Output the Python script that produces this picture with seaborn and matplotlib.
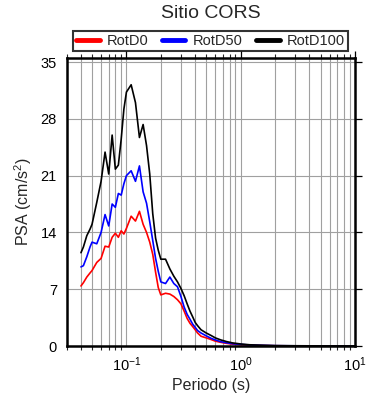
import numpy as np
import pandas as pd
import matplotlib
matplotlib.use("Agg")
import matplotlib.pyplot as plt
import seaborn as sns
from matplotlib.ticker import LogLocator, NullFormatter
from matplotlib.lines import Line2D

periods = [0.040, 0.042, 0.045, 0.048, 0.050, 0.055, 0.060, 0.065, 0.070, 0.075,
           0.080, 0.085, 0.090, 0.095, 0.100, 0.110, 0.120, 0.130, 0.140, 0.150,
           0.160, 0.170, 0.180, 0.190, 0.200, 0.220, 0.240, 0.260, 0.280, 0.300,
           0.320, 0.340, 0.360, 0.380, 0.400, 0.420, 0.450, 0.500, 0.550, 0.600,
           0.670, 0.750, 0.850, 1.0, 1.2, 1.5, 2.0, 3.0, 4.0, 5.0, 7.5, 10.0]

rotd0 = [7.4, 7.8, 8.5, 9.0, 9.3, 10.3, 10.8, 12.3, 12.2, 13.4,
         13.9, 13.4, 14.2, 13.8, 14.5, 16.0, 15.4, 16.6, 15.0, 14.0,
         12.8, 11.3, 9.1, 7.2, 6.3, 6.5, 6.4, 6.1, 5.7, 5.2,
         4.3, 3.4, 2.8, 2.4, 2.0, 1.6, 1.2, 1.0, 0.8, 0.6,
         0.45, 0.33, 0.23, 0.15, 0.10, 0.06, 0.03, 0.015, 0.01, 0.008, 0.005, 0.004]

rotd50 = [9.75, 9.9, 11.0, 12.2, 12.8, 12.6, 14.0, 16.2, 14.8, 17.5,
          17.1, 18.8, 18.6, 20.0, 21.0, 21.6, 20.3, 22.2, 19.0, 17.6,
          15.3, 13.0, 10.8, 9.2, 7.9, 7.7, 8.5, 7.7, 7.3, 6.1,
          4.8, 3.9, 3.3, 2.7, 2.3, 1.9, 1.6, 1.25, 0.95, 0.75,
          0.53, 0.40, 0.28, 0.20, 0.12, 0.08, 0.04, 0.02, 0.015, 0.01, 0.008, 0.005]

rotd100 = [11.5, 12.2, 13.6, 14.4, 15.0, 17.7, 20.3, 23.9, 21.2, 26.0,
           21.8, 22.3, 25.5, 29.2, 31.3, 32.2, 30.0, 25.7, 27.3, 24.7,
           21.2, 16.3, 13.3, 11.8, 10.7, 10.7, 9.5, 8.6, 7.9, 7.1,
           6.2, 5.2, 4.3, 3.6, 2.9, 2.5, 2.0, 1.6, 1.3, 1.0,
           0.75, 0.55, 0.38, 0.25, 0.15, 0.10, 0.05, 0.03, 0.02, 0.015, 0.01, 0.01]

series_names = ["RotD0", "RotD50", "RotD100"]
colors = ["#ff0000", "#0000ff", "#000000"]
yticks = [0, 7, 14, 21, 28, 35]

df = pd.concat([
    pd.DataFrame({"Periodo": periods, "PSA": vals, "Serie": name})
    for name, vals in zip(series_names, [rotd0, rotd50, rotd100])
], ignore_index=True)

sns.set_style("white")
plt.rcParams["font.family"] = ["Liberation Sans", "DejaVu Sans"]
plt.rcParams["mathtext.fontset"] = "custom"
plt.rcParams["mathtext.rm"] = "Liberation Sans"

fig = plt.figure(figsize=(3.9, 4.0), dpi=100)
ax = fig.add_axes([0.171, 0.135, 0.739, 0.72])

sns.lineplot(data=df, x="Periodo", y="PSA", hue="Serie",
             palette=dict(zip(series_names, colors)), linewidth=1.2,
             ax=ax, legend=False, sort=False, estimator=None)

ax.set_xscale("log")
ax.set_xlim(0.03, 10.0)
ax.set_ylim(0, 35.5)
ax.set_yticks(yticks)
ax.xaxis.set_major_locator(LogLocator(base=10, numticks=10))
ax.xaxis.set_minor_locator(LogLocator(base=10, subs=np.arange(2, 10), numticks=20))
ax.xaxis.set_minor_formatter(NullFormatter())

ax.grid(True, which="major", axis="both", color="#a0a0a0", linewidth=0.8)
ax.grid(True, which="minor", axis="x", color="#a0a0a0", linewidth=0.8)
ax.set_axisbelow(True)

for s in ax.spines.values():
    s.set_linewidth(1.8)
    s.set_color("black")

ax.tick_params(axis="both", which="major", direction="out", length=5, width=0.9,
               top=True, right=True, labelsize=10.5, colors="black", pad=2)
ax.tick_params(axis="x", which="minor", direction="out", length=3, width=0.8,
               top=True, bottom=True)
ax.tick_params(labeltop=False, labelright=False)

ax.set_xlabel("Periodo (s)", fontsize=11.5, labelpad=3)
ax.set_ylabel("PSA (cm/s$^2$)", fontsize=11.5, labelpad=5)
fig.text(0.541, 0.967, "Sitio CORS", ha="center", va="center", fontsize=14)

handles = [Line2D([], [], color=c, linewidth=3.5) for c in colors]
leg = fig.legend(handles, series_names, loc="lower left",
                 bbox_to_anchor=(0.188, 0.8725, 0.704, 0.055), mode="expand",
                 ncol=3, fontsize=10.5,
                 frameon=True, fancybox=False, edgecolor="black",
                 handlelength=1.6, handletextpad=0.5, columnspacing=0.8,
                 borderpad=0.2, borderaxespad=0)
leg.get_frame().set_linewidth(1.5)

fig.savefig("out.png", dpi=100)
